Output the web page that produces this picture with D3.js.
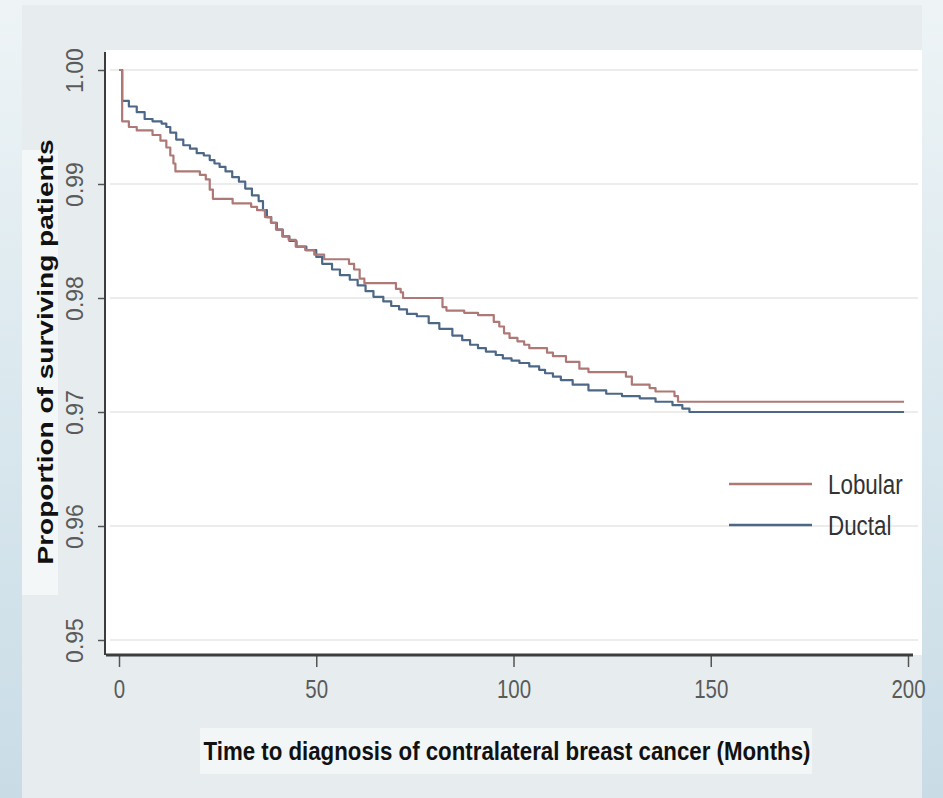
<!DOCTYPE html>
<html>
<head>
<meta charset="utf-8">
<script src="https://cdn.jsdelivr.net/npm/d3@7"></script>
<style>
  html, body { margin: 0; padding: 0; }
  body {
    width: 943px; height: 798px; overflow: hidden;
    background: linear-gradient(to bottom, #eef4f6 0%, #dce9ef 45%, #c9dce6 100%);
  }
  svg { display: block; }
</style>
</head>
<body>
<svg id="chart" width="943" height="798"></svg>
<script>
// Kaplan–Meier survival estimates: time (months) where the curve steps, and the value after the step
const lobularTimes = [0, 0.8, 2.5, 4.5, 8.5, 10.5, 12, 13, 13.8, 14.3, 20.5, 22, 23, 23.8, 28.8, 33.5, 35, 37, 38.5, 39.8,
  41.4, 43, 44.8, 47.2, 49.5, 52, 58.3, 59.6, 61, 62.2, 70.2, 71.4, 72, 82, 83, 87.5, 91, 95, 96.4, 97.6,
  99, 101, 102.7, 104, 108.5, 110, 113.3, 116.7, 119, 128.5, 130, 134.5, 136, 140.8, 141.7, 199];
const lobularSurvival = [1.0, 0.9955, 0.9950, 0.9947, 0.9943, 0.9938, 0.9932, 0.9925, 0.9918, 0.9911, 0.9908, 0.9904, 0.9895, 0.9887, 0.9883, 0.9880, 0.9877, 0.9871, 0.9866, 0.9860,
  0.9854, 0.9851, 0.9845, 0.9842, 0.9838, 0.9834, 0.9830, 0.9825, 0.9817, 0.9813, 0.9808, 0.9805, 0.9800, 0.9792, 0.9789, 0.9787, 0.9785, 0.9779, 0.9775, 0.9769,
  0.9765, 0.9762, 0.9759, 0.9756, 0.9752, 0.9749, 0.9744, 0.9738, 0.9735, 0.9731, 0.9724, 0.9721, 0.9718, 0.9714, 0.9709, 0.9709];

const ductalTimes = [0, 0.8, 2.5, 4.5, 6.5, 8.5, 10.8, 12, 13, 14.5, 16.3, 18, 19.7, 21.5, 23, 24.2, 25.5, 27, 28.7, 30.4,
  32, 33.7, 35.4, 36.5, 37.5, 38.6, 40, 41.5, 43.2, 45, 47.5, 50, 51.5, 54, 56, 58.5, 60.5, 62.5, 64.5, 67,
  69, 71, 73, 75.5, 78.5, 81.2, 84.5, 87, 89, 91, 93, 95.5, 97.3, 99.5, 101.5, 104, 106.5, 108, 110, 112,
  115, 119, 123.5, 127.5, 132, 136, 140.3, 142.8, 144.6, 199];
const ductalSurvival = [1.0, 0.9973, 0.9968, 0.9963, 0.9957, 0.9955, 0.9953, 0.9950, 0.9945, 0.9939, 0.9934, 0.9931, 0.9927, 0.9925, 0.9921, 0.9918, 0.9915, 0.9911, 0.9906, 0.9902,
  0.9896, 0.9890, 0.9885, 0.9877, 0.9871, 0.9866, 0.9860, 0.9854, 0.9850, 0.9845, 0.9842, 0.9836, 0.9830, 0.9825, 0.9820, 0.9816, 0.9811, 0.9806, 0.9801, 0.9797,
  0.9793, 0.9790, 0.9786, 0.9784, 0.9778, 0.9773, 0.9767, 0.9763, 0.9759, 0.9756, 0.9753, 0.9750, 0.9747, 0.9745, 0.9743, 0.9740, 0.9737, 0.9734, 0.9731, 0.9728,
  0.9724, 0.9719, 0.9716, 0.9714, 0.9712, 0.9709, 0.9706, 0.9703, 0.9700, 0.9700];

const seriesNames = ["Lobular", "Ductal"];
const seriesColors = ["#ad7875", "#4d6787"];

const xTicks = [0, 50, 100, 150, 200];
const yTicks = [0.95, 0.96, 0.97, 0.98, 0.99, 1.00];
const xTitle = "Time to diagnosis of contralateral breast cancer (Months)";
const yTitle = "Proportion of surviving patients";

const svg = d3.select("#chart");

// frame
const panel = { left: 22, top: 5, right: 922, bottom: 798 };
const plot = { left: 106, top: 50, right: 922, bottom: 655 };

svg.append("rect")
  .attr("x", panel.left).attr("y", panel.top)
  .attr("width", panel.right - panel.left).attr("height", panel.bottom - panel.top)
  .attr("fill", "#e7edef");

// light backing boxes behind the axis titles
svg.append("rect").attr("x", 22).attr("y", 150).attr("width", 36).attr("height", 445).attr("fill", "#f4f7f8");
svg.append("rect").attr("x", 200).attr("y", 728).attr("width", 612).attr("height", 46).attr("fill", "#f3f6f7");

svg.append("rect")
  .attr("x", plot.left).attr("y", plot.top)
  .attr("width", plot.right - plot.left).attr("height", plot.bottom - plot.top)
  .attr("fill", "#ffffff");

const x = d3.scaleLinear().domain([0, 200]).range([119, 908]);
const y = d3.scaleLinear().domain([0.95, 1.00]).range([640, 70]);

// horizontal grid
svg.append("g").selectAll("line")
  .data(yTicks)
  .join("line")
  .attr("x1", plot.left + 4).attr("x2", plot.right - 4)
  .attr("y1", d => y(d)).attr("y2", d => y(d))
  .attr("stroke", "#ececec").attr("stroke-width", 2);

// survival curves (lobular drawn last, on top)
const series = [
  { name: seriesNames[1], color: seriesColors[1], t: ductalTimes, s: ductalSurvival },
  { name: seriesNames[0], color: seriesColors[0], t: lobularTimes, s: lobularSurvival }
];
const line = d3.line().curve(d3.curveStepAfter).x(d => x(d[0])).y(d => y(d[1]));
svg.append("g").selectAll("path")
  .data(series)
  .join("path")
  .attr("d", d => line(d.t.map((t, i) => [t, d.s[i]])))
  .attr("fill", "none")
  .attr("stroke", d => d.color)
  .attr("stroke-width", 2.2)
  .attr("stroke-linejoin", "round");

// x axis
const xAxis = d3.axisBottom(x).tickValues(xTicks).tickFormat(d3.format("d")).tickSize(12).tickSizeOuter(0).tickPadding(10);
const gx = svg.append("g").attr("transform", `translate(0,${plot.bottom})`).call(xAxis);
gx.select(".domain").remove();
gx.selectAll(".tick line").attr("stroke", "#555").attr("stroke-width", 1.5);
gx.selectAll(".tick text")
  .attr("font-family", "'Liberation Sans', Arial, sans-serif")
  .attr("font-size", 25)
  .attr("fill", "#5a5a5a")
  .attr("dy", "0.71em")
  .attr("y", 25)
  .attr("transform", "scale(0.82,1)");
svg.append("line")
  .attr("x1", plot.left).attr("x2", 913)
  .attr("y1", plot.bottom).attr("y2", plot.bottom)
  .attr("stroke", "#3d3d3d").attr("stroke-width", 3);

// y axis
const yAxis = d3.axisLeft(y).tickValues(yTicks).tickFormat(d3.format(".2f")).tickSize(7).tickSizeOuter(0);
const gy = svg.append("g").attr("transform", `translate(${plot.left - 1},0)`).call(yAxis);
gy.select(".domain").remove();
gy.selectAll(".tick line").attr("stroke", "#555").attr("stroke-width", 1.5);
gy.selectAll(".tick text")
  .attr("font-family", "'Liberation Sans', Arial, sans-serif")
  .attr("font-size", 23)
  .attr("fill", "#5a5a5a")
  .attr("text-anchor", "middle")
  .attr("x", 0).attr("y", -22).attr("dy", 0)
  .attr("transform", "rotate(-90)");
svg.append("line")
  .attr("x1", plot.left - 1).attr("x2", plot.left - 1)
  .attr("y1", plot.top + 2).attr("y2", plot.bottom)
  .attr("stroke", "#3d3d3d").attr("stroke-width", 2);

// axis titles
svg.append("text")
  .attr("x", 507).attr("y", 760)
  .attr("text-anchor", "middle")
  .attr("font-family", "'Liberation Sans', Arial, sans-serif")
  .attr("font-weight", "bold")
  .attr("font-size", 26)
  .attr("fill", "#111")
  .attr("textLength", 607).attr("lengthAdjust", "spacingAndGlyphs")
  .text(xTitle);

svg.append("text")
  .attr("transform", "translate(53,352) rotate(-90)")
  .attr("text-anchor", "middle")
  .attr("font-family", "'Liberation Sans', Arial, sans-serif")
  .attr("font-weight", "bold")
  .attr("font-size", 22)
  .attr("fill", "#111")
  .attr("textLength", 425).attr("lengthAdjust", "spacingAndGlyphs")
  .text(yTitle);

// legend
const legendRows = [seriesNames[0], seriesNames[1]];
const legend = svg.append("g").selectAll("g")
  .data(legendRows)
  .join("g")
  .attr("transform", (d, i) => `translate(729,${484 + i * 41})`);
legend.append("line")
  .attr("x1", 0).attr("x2", 83)
  .attr("stroke", (d, i) => seriesColors[i])
  .attr("stroke-width", 2.5);
legend.append("text")
  .attr("transform", "translate(99,0) scale(0.8,1)")
  .attr("dy", "0.36em")
  .attr("font-family", "'Liberation Sans', Arial, sans-serif")
  .attr("font-size", 28)
  .attr("fill", "#333")
  .text(d => d);
</script>
</body>
</html>
